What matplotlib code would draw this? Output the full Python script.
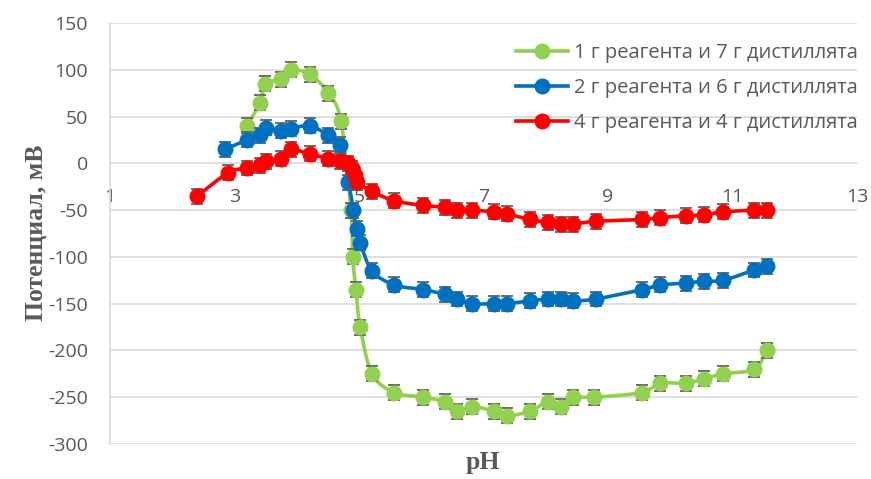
import numpy as np
import matplotlib.pyplot as plt
from matplotlib.path import Path
from matplotlib.patches import PathPatch
from matplotlib.lines import Line2D

plt.rcParams['font.family'] = ['Open Sans', 'DejaVu Sans']
plt.rcParams['axes.unicode_minus'] = False

# pH и потенциал (мВ) для трёх составов
ph_1 = [3.20, 3.41, 3.49, 3.74, 3.90, 4.21, 4.51, 4.71, 4.87, 4.90, 4.95, 5.02, 5.21, 5.57, 6.03, 6.38,
        6.57, 6.82, 7.17, 7.38, 7.74, 8.04, 8.24, 8.44, 8.78, 9.54, 9.84, 10.25, 10.55, 10.85, 11.35, 11.55]
mv_1 = [40, 65, 85, 90, 100, 95, 75, 45, -50, -100, -135, -175, -225, -245, -250, -255,
        -265, -260, -265, -270, -265, -255, -260, -250, -250, -245, -235, -235, -230, -225, -220, -200]

ph_2 = [2.85, 3.20, 3.41, 3.51, 3.74, 3.90, 4.21, 4.51, 4.70, 4.83, 4.91, 4.96, 5.02, 5.21, 5.57, 6.03, 6.38,
        6.57, 6.82, 7.17, 7.38, 7.74, 8.04, 8.24, 8.43, 8.80, 9.55, 9.84, 10.25, 10.54, 10.85, 11.35, 11.56]
mv_2 = [15, 25, 30, 38, 35, 37, 40, 30, 20, -20, -50, -70, -85, -115, -130, -135, -140,
        -145, -150, -150, -150, -147, -145, -145, -147, -145, -135, -130, -128, -126, -125, -114, -110]

ph_4 = [2.40, 2.90, 3.20, 3.41, 3.51, 3.74, 3.90, 4.21, 4.51, 4.70, 4.82, 4.88, 4.93, 4.96, 5.21, 5.57, 6.03,
        6.38, 6.57, 6.82, 7.17, 7.38, 7.74, 8.04, 8.24, 8.43, 8.80, 9.55, 9.84, 10.25, 10.54, 10.85, 11.35, 11.56]
mv_4 = [-35, -10, -5, -2, 2, 5, 15, 10, 5, 2, 0, -5, -13, -20, -30, -40, -45,
        -47, -50, -50, -52, -54, -60, -63, -65, -65, -62, -60, -58, -56, -55, -52, -50, -50]

err = 8
labels = ['1 г реагента и 7 г дистиллята', '2 г реагента и 6 г дистиллята', '4 г реагента и 4 г дистиллята']
colors = ['#92D050', '#0070C0', '#FF0000']

txt = '#595959'


def smooth_path(x, y):
    # сглаженная линия (кривые Безье через все точки)
    p = np.column_stack([x, y]).astype(float)
    ext = np.vstack([p[0], p, p[-1]])
    verts = [p[0]]
    codes = [Path.MOVETO]
    for i in range(len(p) - 1):
        p0, p1, p2, p3 = ext[i], ext[i + 1], ext[i + 2], ext[i + 3]
        verts += [p1 + (p2 - p0) / 6, p2 - (p3 - p1) / 6, p2]
        codes += [Path.CURVE4] * 3
    return Path(verts, codes)


fig = plt.figure(figsize=(8.71, 4.79), dpi=100)
ax = fig.add_axes([110 / 871, 1 - 444 / 479, 747 / 871, 421 / 479])

handles = []
for k, (x, y) in enumerate([(ph_1, mv_1), (ph_2, mv_2), (ph_4, mv_4)]):
    z = 3 + k * 3
    ax.add_patch(PathPatch(smooth_path(x, y), fill=False, edgecolor=colors[k], lw=2.6, zorder=z))
    ax.errorbar(x, y, yerr=err, fmt='none', ecolor='#606060', elinewidth=1.2, capsize=4.5,
                capthick=1.3, zorder=z + 1)
    ax.plot(x, y, 'o', color=colors[k], ms=10.5, zorder=z + 2)
    handles.append(Line2D([], [], color=colors[k], lw=2.6, marker='o', ms=10.5))

ax.set_xlim(1, 13)
ax.set_ylim(-300, 150)
ax.set_xticks(np.arange(1, 14, 2))
ax.set_yticks(np.arange(-300, 151, 50))
ax.grid(axis='y', color='#d9d9d9', lw=1.2)
ax.set_axisbelow(True)

for s in ['top', 'right', 'bottom']:
    ax.spines[s].set_visible(False)
ax.spines['left'].set_color('#d9d9d9')
ax.spines['left'].set_linewidth(1.2)
ax.tick_params(axis='both', length=0, labelsize=14, labelcolor=txt)
ax.tick_params(axis='y', pad=16)
ax.tick_params(axis='x', pad=18)
ax.xaxis.set_ticks_position('bottom')
ax.spines['bottom'].set_position(('data', 0))

fig.text(36 / 871, 1 - 233 / 479, 'Потенциал, мВ', rotation=90, ha='center', va='center',
         family='Liberation Serif', weight='bold', fontsize=18.5, color=txt)
fig.text(483 / 871, 1 - 463 / 479, 'pH', ha='center', va='center',
         family='Liberation Serif', weight='bold', fontsize=18.5, color=txt)

fig.legend(handles, labels, loc='upper left', bbox_to_anchor=(506 / 871, 1 - 33 / 479),
           frameon=False, fontsize=14.5, labelcolor=txt, handlelength=2.6, handletextpad=0.3,
           labelspacing=0.75, borderpad=0)

fig.savefig('out.png', dpi=100)
